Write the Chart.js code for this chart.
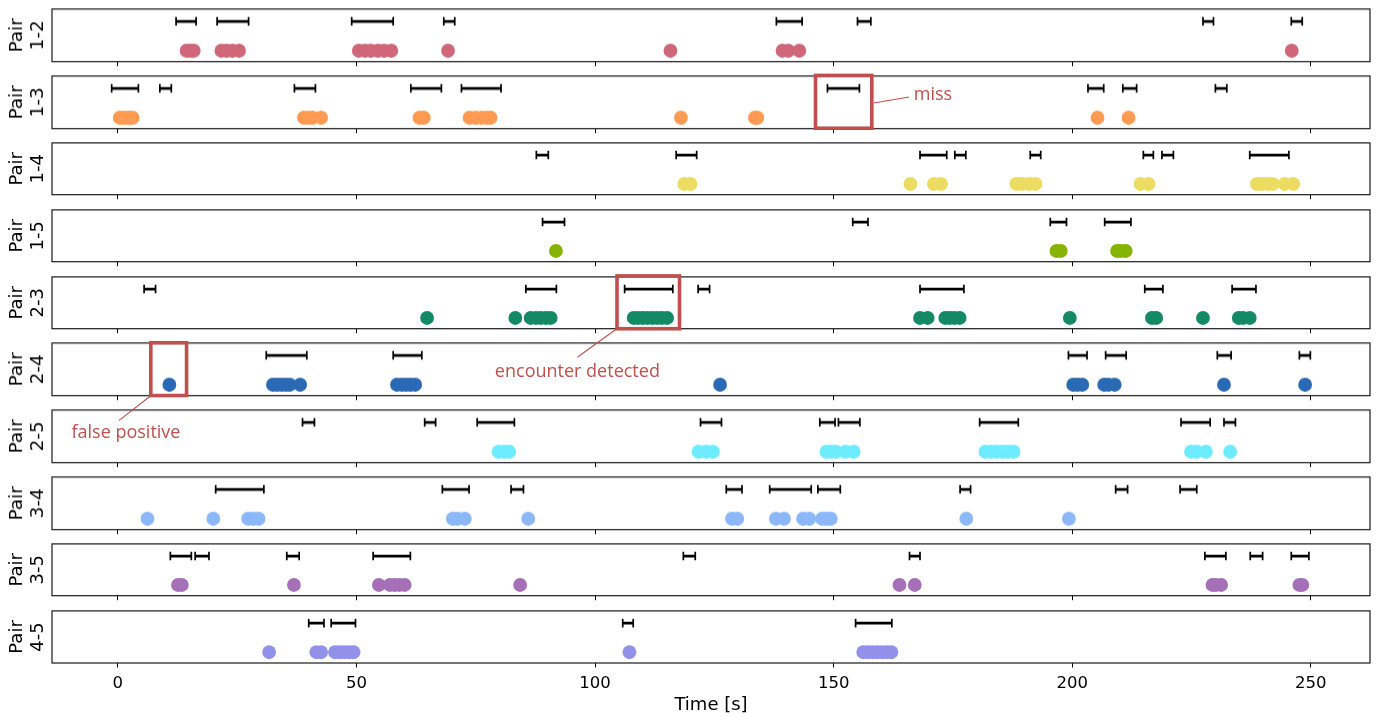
<!DOCTYPE html>
<html>
<head>
<meta charset="utf-8">
<script src="https://cdn.jsdelivr.net/npm/chart.js@4.4.1/dist/chart.umd.min.js"></script>
<style>
  html, body { margin: 0; padding: 0; background: #fff; }
  #wrap { position: relative; width: 1380px; height: 717px; overflow: hidden; }
  .panel { position: absolute; left: 0; width: 1380px; }
  #notes { position: absolute; left: 0; top: 0; pointer-events: none; }
</style>
</head>
<body>
<div id="wrap"></div>
<script>
var pairs = ['1-2', '1-3', '1-4', '1-5', '2-3', '2-4', '2-5', '3-4', '3-5', '4-5'];
var colors = ['#cf6679', '#ff9a52', '#ecdc62', '#86b300', '#138a63', '#2a6ab5', '#6eecff', '#8cb8fa', '#a670b9', '#9191e9'];
var xTicks = [0, 50, 100, 150, 200, 250];

// true encounters: [start, end] in seconds
var enc12 = [[12.2, 16.4], [20.8, 27.4], [49, 57.7], [68.3, 70.6], [138, 143.4], [155, 157.8], [227.4, 229.6], [245.9, 248.2]];
var enc13 = [[-1.3, 4.3], [8.8, 11.2], [37, 41.4], [61.4, 67.8], [72, 80.3], [148.7, 155.4], [203.3, 206.6], [210.6, 213.5], [230, 232.4]];
var enc14 = [[87.7, 90.2], [117, 121.3], [168.1, 173.7], [175.4, 177.7], [191.2, 193.4], [214.9, 217], [218.8, 221.2], [237.2, 245.4]];
var enc15 = [[89, 93.6], [154, 157.2], [195.4, 198.8], [206.8, 212.3]];
var enc23 = [[5.5, 7.9], [85.5, 91.9], [106.2, 116.3], [121.6, 124], [168.1, 177.3], [215.2, 219], [233.5, 238.5]];
var enc24 = [[31.1, 39.6], [57.7, 63.7], [199.2, 203.1], [207, 211.3], [230.4, 233.3], [247.6, 249.9]];
var enc25 = [[38.7, 41.2], [64.3, 66.6], [75.3, 83.1], [122.1, 126.5], [147.1, 150.3], [151, 155.5], [180.6, 188.7], [222.8, 228.9], [231.8, 234.2]];
var enc34 = [[20.5, 30.6], [68, 73.6], [82.4, 85], [127.5, 130.8], [136.6, 145.3], [146.7, 151.4], [176.5, 178.7], [209.1, 211.6], [222.6, 226.1]];
var enc35 = [[11, 15.4], [16.2, 19.1], [35.4, 38], [53.5, 61.3], [118.5, 121], [165.9, 168.1], [227.8, 232.2], [237.3, 239.9], [245.9, 249.6]];
var enc45 = [[40, 43.2], [44.7, 49.8], [105.8, 108], [154.6, 162.2]];

// detections (seconds)
var det12 = [14.4, 15.2, 15.9, 21.7, 22.8, 24, 25.4, 50.5, 51.8, 53, 54.5, 55.8, 57.3, 69.2, 115.8, 139.3, 140.5, 142.8, 246];
var det13 = [0.4, 1.2, 2, 2.6, 3.1, 39, 40, 40.8, 42.6, 63.2, 64.1, 73.7, 75, 76.2, 77.3, 78.1, 118, 133.5, 134, 205.3, 211.8];
var det14 = [118.7, 120, 166.1, 171, 172.5, 188.3, 189.5, 191, 192.3, 214.3, 216, 238.7, 239.8, 241, 242, 244.5, 246.3];
var det15 = [91.8, 196.7, 197.6, 209.4, 210.2, 211.2];
var det23 = [64.8, 83.3, 86.5, 87.6, 88.6, 89.7, 90.7, 108.1, 109, 110, 111, 112, 113, 114, 115.1, 168.1, 169.7, 173.4, 174.3, 175.3, 176.4, 199.5, 216.7, 217.6, 227.4, 234.9, 235.8, 237.2];
var det24 = [10.8, 32.5, 33.4, 34.3, 35.2, 36, 38.2, 58.5, 59.5, 60.4, 61.3, 62.3, 126.2, 200.2, 201.1, 202.1, 206.7, 207.6, 208.9, 231.8, 248.8];
var det25 = [79.8, 81, 82, 121.7, 123.3, 124.7, 148.5, 149.5, 150.5, 152.5, 154.2, 181.8, 183, 184.2, 185.5, 186.5, 187.7, 224.9, 226.1, 228, 233.1];
var det34 = [6.2, 20, 27.3, 28.3, 29.5, 70.2, 71.2, 72.7, 86, 128.7, 129.8, 137.9, 139.6, 143.6, 144.9, 147.6, 148.6, 149.4, 177.8, 199.3];
var det35 = [12.6, 13.4, 36.9, 54.7, 57, 58, 59, 60.1, 84.3, 163.8, 167, 229.4, 230.1, 231.2, 247.6, 248.2];
var det45 = [31.7, 41.6, 42.6, 45.5, 46.5, 47.5, 48.5, 49.4, 107.2, 156.2, 157.2, 158.2, 159.2, 160.2, 161.2, 162.1];

var encounters = [enc12, enc13, enc14, enc15, enc23, enc24, enc25, enc34, enc35, enc45];
var detections = [det12, det13, det14, det15, det23, det24, det25, det34, det35, det45];

// red call-outs
var boxes = [{row: 1, from: 146.2, to: 158.0}, {row: 4, from: 104.6, to: 117.7}, {row: 5, from: 6.9, to: 14.4}];
var noteText = ['miss', 'encounter detected', 'false positive'];
var noteX = [166.8, 96.3, 1.7];
var noteRow = [1, 5, 6];
var noteDy = [19, 28.5, 22.5];
var noteAlign = ['left', 'center', 'center'];

(function() {
  var xMin = -13.8, xMax = 262.4;
  var firstTop = 6.2, rowStep = 66.83, panelH = 55.6;
  var wrap = document.getElementById('wrap');
  var charts = [];

  var framePlugin = {
    id: 'frame',
    afterDraw: function(chart) {
      var a = chart.chartArea, ctx = chart.ctx;
      ctx.save();
      ctx.strokeStyle = '#1a1a1a';
      ctx.lineWidth = 1.2;
      ctx.strokeRect(a.left, a.top, a.right - a.left, a.bottom - a.top);
      ctx.restore();
    }
  };

  for (var i = 0; i < pairs.length; i++) {
    var last = i === pairs.length - 1;
    var boxTop = firstTop + i * rowStep - 4;
    var h = last ? 717 - boxTop : 4 + panelH + 6;
    var div = document.createElement('div');
    div.className = 'panel';
    div.style.top = boxTop + 'px';
    div.style.height = h + 'px';
    var cv = document.createElement('canvas');
    div.appendChild(cv);
    wrap.appendChild(div);

    var lineData = [], capData = [];
    encounters[i].forEach(function(e) {
      lineData.push({x: e[0], y: 1}, {x: e[1], y: 1}, {x: e[1], y: null});
      capData.push({x: e[0], y: 1}, {x: e[1], y: 1});
    });
    var dots = detections[i].map(function(t) { return {x: t, y: 0}; });

    var chart = new Chart(cv, {
      type: 'scatter',
      data: {
        datasets: [
          {data: dots, backgroundColor: colors[i], borderWidth: 0, pointRadius: 6.9, pointHoverRadius: 6.9},
          {type: 'line', data: lineData, showLine: true, spanGaps: false, borderColor: '#000', borderWidth: 2.8, pointRadius: 0, fill: false},
          {data: capData, pointStyle: 'line', rotation: 90, pointRadius: 4.3, borderColor: '#000', borderWidth: 1.7}
        ]
      },
      options: {
        responsive: true,
        maintainAspectRatio: false,
        animation: false,
        events: [],
        layout: {padding: {left: 0, right: 10, top: 4, bottom: 0}},
        plugins: {legend: {display: false}, tooltip: {enabled: false}},
        scales: {
          x: {
            type: 'linear', min: xMin, max: xMax,
            afterBuildTicks: function(s) { s.ticks = xTicks.map(function(v) { return {value: v}; }); },
            afterFit: last ? function(s) { s.height = 54.3; } : function(s) { s.height = 6; },
            grid: {drawOnChartArea: false, drawTicks: true, tickLength: 4.5, color: '#000', tickWidth: 1},
            border: {display: false},
            ticks: {display: last, color: '#000', padding: 6, maxRotation: 0, font: {family: 'DejaVu Sans', size: 16.5}},
            title: {display: last, text: 'Time [s]', color: '#000', padding: {top: 0, bottom: 1.5}, font: {family: 'DejaVu Sans', size: 18}}
          },
          y: {
            min: -0.37, max: 1.42,
            afterFit: function(s) { s.width = 52; },
            grid: {display: false},
            border: {display: false},
            ticks: {display: false},
            title: {display: true, text: ['Pair', pairs[i]], color: '#000', padding: {top: 6.2, bottom: 0}, font: {family: 'DejaVu Sans', size: 18}}
          }
        }
      },
      plugins: [framePlugin]
    });
    charts.push({chart: chart, offset: boxTop});
  }

  // call-outs on top of the panels
  var notes = document.createElement('canvas');
  notes.id = 'notes';
  var dpr = window.devicePixelRatio || 1;
  notes.width = 1380 * dpr;
  notes.height = 717 * dpr;
  notes.style.width = '1380px';
  notes.style.height = '717px';
  wrap.appendChild(notes);
  var ctx = notes.getContext('2d');
  ctx.scale(dpr, dpr);

  function px(row, v) { return charts[row].chart.scales.x.getPixelForValue(v); }
  function rowTop(row) { return charts[row].offset + charts[row].chart.chartArea.top; }
  function rowBottom(row) { return charts[row].offset + charts[row].chart.chartArea.bottom; }

  var red = '#c0504d';
  ctx.strokeStyle = red;
  ctx.lineWidth = 3.6;
  boxes.forEach(function(b) {
    var x0 = px(b.row, b.from), x1 = px(b.row, b.to);
    var y0 = rowTop(b.row) - 0.5, y1 = rowBottom(b.row) + 0.5;
    ctx.strokeRect(x0, y0, x1 - x0, y1 - y0);
  });

  // connector lines
  ctx.lineWidth = 1.1;
  ctx.beginPath();
  ctx.moveTo(px(1, 158.0) + 2, rowTop(1) + 27);
  ctx.lineTo(px(1, 165.8), rowTop(1) + 21);
  ctx.moveTo(px(5, 96.3), rowTop(5) + 14);
  ctx.lineTo(px(4, 104.4), rowBottom(4) + 1);
  ctx.moveTo(px(6, 0.2), rowTop(6) + 10.5);
  ctx.lineTo(px(5, 6.7), rowBottom(5) + 1.5);
  ctx.stroke();

  ctx.fillStyle = red;
  ctx.font = '18px "Open Sans"';
  ctx.textBaseline = 'middle';
  for (var n = 0; n < noteText.length; n++) {
    ctx.textAlign = noteAlign[n];
    ctx.fillText(noteText[n], px(noteRow[n], noteX[n]), rowTop(noteRow[n]) + noteDy[n]);
  }
})();
</script>
</body>
</html>
